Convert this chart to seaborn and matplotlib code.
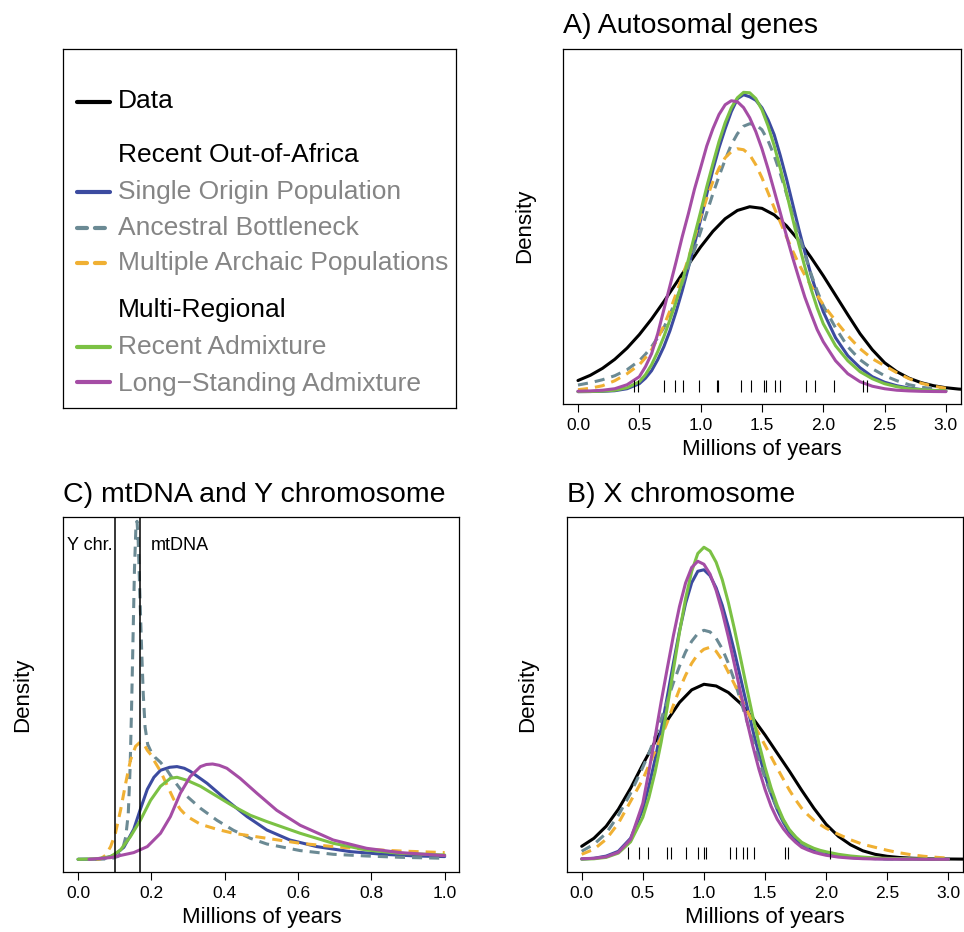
import matplotlib
matplotlib.use("Agg")
import matplotlib.pyplot as plt
import seaborn as sns
import pandas as pd

sns.set_style("white")
plt.rcParams["font.family"] = ["Liberation Sans", "DejaVu Sans"]
plt.rcParams["text.color"] = "black"
plt.rcParams["axes.labelcolor"] = "black"
plt.rcParams["xtick.color"] = "black"

# model names, colours and line styles (draw order = list order)
models = ["Data", "Single Origin Population", "Ancestral Bottleneck",
          "Multiple Archaic Populations", "Recent Admixture",
          "Long\u2212Standing Admixture"]
colors = ["#000000", "#3C4BA0", "#6B8A94", "#F0B033", "#7BC144", "#A54DA5"]
dash_specs = ["", "", (3.3, 2.3), (3.3, 2.3), "", ""]

# x positions (millions of years) for panels A and B
grid_data = [0.0, 0.1, 0.2, 0.3, 0.4, 0.5, 0.6, 0.7, 0.8, 0.9, 1.0, 1.1, 1.2, 1.3,
             1.4, 1.5, 1.6, 1.7, 1.8, 1.9, 2.0, 2.1, 2.2, 2.3, 2.4, 2.5, 2.6, 2.7,
             2.8, 2.9, 3.0, 3.1, 3.2]
grid_model = [0.0, 0.1, 0.2, 0.3, 0.4, 0.5,
              0.55, 0.6, 0.65, 0.7, 0.75, 0.8, 0.85, 0.9, 0.95, 1.0,
              1.05, 1.1, 1.15, 1.2, 1.25, 1.3, 1.35, 1.4, 1.45, 1.5, 1.55, 1.6,
              1.65, 1.7, 1.75, 1.8, 1.85, 1.9, 1.95, 2.0,
              2.1, 2.2, 2.3, 2.4, 2.5, 2.6, 2.7, 2.8, 2.9, 3.0]

# relative density (arbitrary units)
# A) autosomal genes
a_data = [11.2, 16.4, 23.4, 32.4, 43.6, 57.1, 72.7, 90.1, 108.5, 127.1, 144.8, 160.4,
          173.0, 181.3, 185.0, 183.4, 176.9, 165.9, 151.4, 134.3, 116.0, 96.5, 77.0,
          58.0, 42.0, 29.0, 20.0, 13.5, 9.0, 6.0, 4.0, 2.7, 1.8]
a_single = [0.1, 0.2, 0.4, 1.0, 3.0, 8,
            13.5, 21, 32, 45, 61, 80, 101, 124, 147.5, 172,
            197.5, 222, 244, 263, 280, 293, 297, 295, 291.5, 284, 272, 257, 236, 213,
            188, 163, 139.5, 117, 97.5, 80,
            54, 36, 24, 15, 9.5, 6, 3.7, 2.2, 1.3, 0.8]
a_bottleneck = [6.7, 9, 12, 16, 22, 31,
                37.5, 45, 54, 64, 77.5, 92, 108, 125, 142, 160,
                179, 198, 215.5, 232, 247, 258, 265.5, 268, 267, 262, 251, 236, 218,
                198, 177.5, 157, 137, 118, 101, 86,
                64, 45, 32, 23, 16, 11, 7, 4.5, 3, 2]
a_archaic = [2, 3.5, 6, 11, 18, 27,
             34, 42, 53, 66, 81, 98, 115, 133, 154, 175,
             193.5, 210, 223.5, 234, 240, 243, 242, 237, 227, 214, 199, 184, 169.5,
             155, 141, 128, 116.5, 106, 96.5, 87,
             71, 56, 43, 33, 26, 19, 13, 8.5, 5.5, 3.5]
a_recent = [0.1, 0.2, 0.6, 1.5, 4, 10,
            17, 27, 40, 55, 72, 90, 110.4, 132, 156.1, 180,
            205, 228, 250.2, 269, 283.9, 294, 299.4, 299, 293.2, 282, 265.8, 246,
            223.2, 199, 173.4, 148, 124.7, 103, 84, 68,
            46, 31, 20, 13, 8, 5, 3, 2, 1.2, 0.8]
a_longstanding = [0.5, 0.8, 1.5, 3, 7, 15,
                  25, 38, 58, 82, 106, 130, 155, 178, 202.6, 224,
                  245.8, 263, 277.3, 287, 291, 290, 284.2, 274, 260.1, 243, 222.9,
                  201, 178.8, 156, 134.3, 114, 94.5, 78, 62.2, 50,
                  31, 18, 10, 5.5, 3, 1.5, 0.8, 0.4, 0.2, 0.1]
rug_a = [0.46, 0.49, 0.70, 0.79, 0.86, 0.99, 1.13, 1.14, 1.33, 1.41, 1.52, 1.53, 1.61,
         1.65, 1.86, 1.93, 2.09, 2.32, 2.36]

# B) X chromosome
b_data = [13, 21, 33, 50, 71, 94.9, 117.4, 138.8, 156.8, 169.4, 175, 173.3, 166.8,
          155.8, 141.2, 124.3, 106.1, 88, 69, 51, 35, 23, 14.5, 8.5, 5, 3, 1.8, 1.1,
          0.7, 0.4, 0.3, 0.2, 0.1]
b_single = [0.2, 1.0, 3.2, 8, 21, 50,
            73, 99.7, 129.6, 162.4, 196, 228.2, 255.9, 276.6, 288, 289.5,
            283.6, 271.4, 254, 232.2, 207.5, 181.2, 154.7, 129, 105.2, 83.8, 65.3,
            49.6, 36.9, 26.8, 20, 15, 11.5, 8.5, 6.6, 5,
            3, 1.8, 1.1, 0.7, 0.4, 0.3, 0.2, 0.1, 0.1, 0]
b_bottleneck = [8, 15, 26, 44, 66, 92,
                106, 122, 140, 158, 176.4, 193, 207.4, 218, 225.8, 229,
                227.4, 221, 210.4, 196, 178.5, 159, 138.9, 118.6, 99.1, 81, 64.9,
                50.8, 39, 29.2, 22, 16, 12.5, 9.5, 7.3, 5.5,
                3.2, 1.9, 1.1, 0.7, 0.4, 0.3, 0.2, 0.1, 0.1, 0]
b_archaic = [5, 10, 20, 36, 58, 80,
             94, 108, 122, 137, 154, 170, 184, 196, 205, 210,
             212, 208, 199, 187, 175, 162, 149.5, 137, 125.5, 114, 102.5, 91, 80, 69,
             59.5, 51, 44.5, 39, 34.8, 31,
             25, 19.5, 15, 12, 9, 6.5, 4.5, 3, 2, 1.2]
b_recent = [0.2, 0.5, 1.9, 6.2, 17.5, 42,
            61.8, 87, 117, 152, 189.2, 227, 260.6, 288, 305.8, 312,
            308.2, 297, 279.6, 256.7, 230, 201, 171.5, 142.8, 116.1, 92, 71.2, 53.8,
            39.7, 29.5, 22.5, 17, 13.8, 11, 9, 7.5,
            5, 3.3, 2.2, 1.4, 0.9, 0.6, 0.4, 0.3, 0.2, 0.1]
b_longstanding = [0.6, 1.0, 2.5, 7, 20, 56,
                  88, 122, 157.4, 190.8, 223.4, 252.7, 276.3, 291.8, 298, 295,
                  285.2, 268.9, 247.5, 222.3, 194.8, 166.7, 139.1, 113.4, 90.1, 69.9,
                  52.9, 40, 30.5, 23, 17, 12, 9.3, 7, 5.4, 4,
                  2.2, 1.2, 0.6, 0.3, 0.2, 0.1, 0.1, 0, 0, 0]
rug_b = [0.38, 0.47, 0.54, 0.70, 0.73, 0.85, 0.95, 1.00, 1.02, 1.21, 1.26, 1.32, 1.35,
         1.41, 1.66, 1.69, 2.03]

# C) mtDNA and Y chromosome
c_single_x = [0.0, 0.05, 0.075, 0.098, 0.125, 0.152, 0.17, 0.189, 0.207, 0.225, 0.25,
              0.27, 0.29, 0.306, 0.352, 0.406, 0.461, 0.515, 0.578, 0.651, 0.742,
              0.832, 0.923, 1.0]
c_single = [0, 0.2, 1.2, 4, 12, 30, 50, 70, 82, 89, 92, 92.7, 91, 88, 76, 59, 42.7,
            29.3, 19.3, 12.7, 7.7, 5, 3.3, 2.7]
c_bottleneck_x = [0.0, 0.05, 0.09, 0.11, 0.12, 0.13, 0.137, 0.142, 0.146, 0.15, 0.154,
                  0.158, 0.161, 0.164, 0.167, 0.170, 0.174, 0.178, 0.183, 0.19, 0.20,
                  0.21, 0.225, 0.243, 0.261, 0.288, 0.334, 0.379, 0.424, 0.47, 0.515,
                  0.606, 0.696, 0.787, 0.878, 1.0]
c_bottleneck = [0, 0, 0.5, 3, 8, 22, 45, 90, 150, 220, 290, 333, 338, 320, 285, 250, 205,
                165, 132, 115, 107, 102, 97, 89, 79, 66, 51, 39, 29, 21, 15.3, 8.7, 5,
                3.3, 2, 1]
c_archaic_x = [0.05, 0.062, 0.075, 0.089, 0.102, 0.116, 0.13, 0.143, 0.157, 0.169, 0.18,
               0.189, 0.2, 0.207, 0.225, 0.243, 0.261, 0.279, 0.297, 0.334, 0.379,
               0.424, 0.515, 0.606, 0.696, 0.787, 0.878, 1.0]
c_archaic = [0, 0.5, 4, 12.7, 26, 49, 76, 99, 113, 117, 115, 109, 104, 99, 88, 74, 60,
             50, 43, 35, 30, 26, 21, 16, 12.7, 10, 8.3, 6.7]
c_recent_x = [0.0, 0.05, 0.089, 0.116, 0.143, 0.17, 0.198, 0.225, 0.252, 0.27, 0.297,
              0.334, 0.379, 0.424, 0.47, 0.515, 0.606, 0.696, 0.787, 0.878, 1.0]
c_recent = [0, 0.5, 2.7, 9.3, 22.7, 39, 59, 73, 81, 82, 79, 73, 63, 53, 44, 37.7, 26,
            16, 9.3, 6, 4.3]
c_long_x = [0.03, 0.089, 0.152, 0.189, 0.225, 0.252, 0.279, 0.306, 0.334, 0.35, 0.367,
            0.385, 0.406, 0.442, 0.488, 0.542, 0.606, 0.696, 0.787, 0.878, 1.0]
c_long = [0, 1.7, 6.7, 12.7, 26, 42.7, 66, 82.7, 92.7, 94.8, 95.3, 94, 91, 81, 66, 49,
          34, 19.3, 11, 6.7, 3.7]
y_chr, mtdna = 0.10, 0.17

ticks_ab = [0.0, 0.5, 1.0, 1.5, 2.0, 2.5, 3.0]
ticks_c = [0.0, 0.2, 0.4, 0.6, 0.8, 1.0]


def long_frame(curves):
    parts = [pd.DataFrame({"x": xs, "density": ys, "model": name})
             for name, xs, ys in curves]
    return pd.concat(parts, ignore_index=True)


def draw_panel(ax, df, title, ticks, xlim, ylim, ypad=20.5):
    present = [m for m in models if m in set(df["model"])]
    sns.lineplot(data=df, x="x", y="density", hue="model", style="model",
                 hue_order=present, style_order=present,
                 palette=dict(zip(models, colors)),
                 dashes=dict(zip(models, dash_specs)),
                 linewidth=2.2, estimator=None, sort=False, legend=False,
                 solid_joinstyle="round", ax=ax)
    ax.set_xlim(*xlim)
    ax.set_ylim(*ylim)
    ax.set_xticks(ticks)
    ax.set_xticklabels([f"{t:.1f}" for t in ticks])
    ax.set_yticks([])
    ax.tick_params(axis="x", bottom=True, length=5.5, width=0.8, pad=4.5,
                   labelsize=12.5, color="black", labelcolor="black")
    ax.set_xlabel("Millions of years", fontsize=16, labelpad=4.5)
    ax.set_ylabel("Density", fontsize=16, labelpad=ypad)
    ax.set_title(title, loc="left", fontsize=20.5, pad=11.3, color="black")
    for s in ax.spines.values():
        s.set_color("black")
        s.set_linewidth(0.9)


fig = plt.figure(figsize=(9.64, 9.32), dpi=100)
ax_leg = fig.add_axes([0.0654, 0.5622, 0.4077, 0.3852])
ax_a = fig.add_axes([0.5843, 0.5665, 0.4122, 0.3814])
ax_c = fig.add_axes([0.0657, 0.0647, 0.4108, 0.3803])
ax_b = fig.add_axes([0.5882, 0.0647, 0.4108, 0.3803])

df_a = long_frame([(models[0], grid_data, a_data), (models[1], grid_model, a_single),
                   (models[2], grid_model, a_bottleneck),
                   (models[3], grid_model, a_archaic),
                   (models[4], grid_model, a_recent),
                   (models[5], grid_model, a_longstanding)])
draw_panel(ax_a, df_a, "A) Autosomal genes", ticks_ab, (-0.12, 3.12), (-12.3, 343.2))
ax_a.vlines(rug_a, 0, 12, color="black", linewidth=0.8)

df_b = long_frame([(models[0], grid_data, b_data), (models[1], grid_model, b_single),
                   (models[2], grid_model, b_bottleneck),
                   (models[3], grid_model, b_archaic),
                   (models[4], grid_model, b_recent),
                   (models[5], grid_model, b_longstanding)])
draw_panel(ax_b, df_b, "B) X chromosome", ticks_ab, (-0.12, 3.12), (-12.4, 342))
ax_b.vlines(rug_b, 0, 12, color="black", linewidth=0.8)

df_c = long_frame([(models[1], c_single_x, c_single),
                   (models[2], c_bottleneck_x, c_bottleneck),
                   (models[3], c_archaic_x, c_archaic),
                   (models[4], c_recent_x, c_recent),
                   (models[5], c_long_x, c_long)])
draw_panel(ax_c, df_c, "C) mtDNA and Y chromosome", ticks_c, (-0.04, 1.04), (-12.4, 342),
           ypad=22)
ax_c.axvline(y_chr, color="black", linewidth=1.1)
ax_c.axvline(mtdna, color="black", linewidth=1.1)
ax_c.text(y_chr - 0.006, 309, "Y chr.", ha="right", va="baseline", fontsize=13)
ax_c.text(mtdna + 0.028, 309, "mtDNA", ha="left", va="baseline", fontsize=13)

# legend panel
ax_leg.set_xticks([])
ax_leg.set_yticks([])
ax_leg.set_xlim(0, 1)
ax_leg.set_ylim(0, 1)
for s in ax_leg.spines.values():
    s.set_color("black")
    s.set_linewidth(0.9)

legend_rows = [
    ("Data", 0, 0.8532, 0.8348),
    ("Recent Out-of-Africa", None, None, 0.6844),
    ("Single Origin Population", 1, 0.6025, 0.5813),
    ("Ancestral Bottleneck", 2, 0.5022, 0.4819),
    ("Multiple Archaic Populations", 3, 0.4047, 0.3844),
    ("Multi-Regional", None, None, 0.2543),
    ("Recent Admixture", 4, 0.1691, 0.1496),
    ("Long\u2212Standing Admixture", 5, 0.0716, 0.0474),
]
for label, idx, y_line, y_text in legend_rows:
    if idx is None:
        ax_leg.text(0.14, y_text, label, fontsize=19, color="black", va="baseline")
        continue
    ls = "-" if dash_specs[idx] == "" else (0, (2.4, 1.9))
    ax_leg.plot([0.036, 0.12], [y_line, y_line], color=colors[idx], linewidth=3,
                linestyle=ls, solid_capstyle="round", dash_capstyle="round")
    ax_leg.text(0.14, y_text, label, fontsize=19, va="baseline",
                color="black" if idx == 0 else "#858585")

fig.savefig("out.png", dpi=100)
